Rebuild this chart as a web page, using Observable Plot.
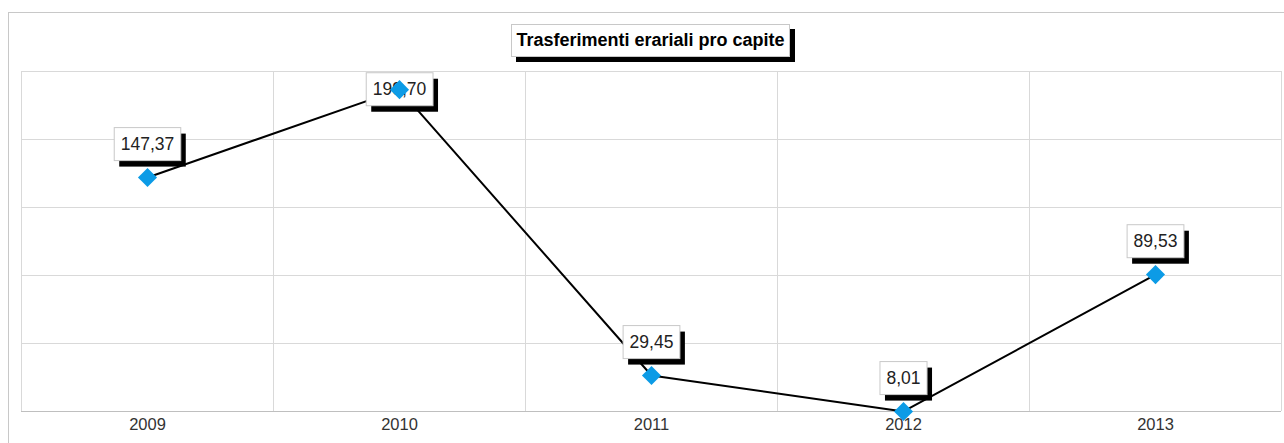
<!DOCTYPE html>
<html><head><meta charset="utf-8">
<script src="https://cdn.jsdelivr.net/npm/d3@7"></script>
<script src="https://cdn.jsdelivr.net/npm/@observablehq/plot@0.6"></script>
<style>
body{margin:0;background:#fff;font-family:Arial,"Liberation Sans",sans-serif;}
#wrap{position:relative;width:1284px;height:443px;overflow:hidden;background:#fff;}
#chart{position:absolute;left:0;top:0;}
#frame{position:absolute;left:8px;top:12px;width:1300px;height:460px;border:1px solid #c8c8c8;pointer-events:none;}
#title{position:absolute;left:511px;top:24px;width:277px;height:31px;border:1px solid #c8c8c8;box-shadow:5px 5px 0 #000;background:#fff;font-weight:bold;font-size:18px;line-height:31px;text-align:center;color:#000;font-family:Arial,"Liberation Sans",sans-serif;white-space:nowrap;}
</style></head>
<body>
<div id="wrap"><div id="chart"></div><div id="frame"></div><div id="title">Trasferimenti erariali pro capite</div></div>
<script>
const years = ["2009", "2010", "2011", "2012", "2013"];
const values = [147.37, 199.70, 29.45, 8.01, 89.53];
const labels = ["147,37", "199,70", "29,45", "8,01", "89,53"];

const yMin = 8, yMax = 210.5;
const W = 1284, H = 443, mT = 71, mB = 32, mL = 21, mR = 3;
const pxPerUnit = (H - mT - mB) / (yMax - yMin);
const labelOffset = 33;

const data = years.map((y, i) => ({i, year: y, v: values[i], label: labels[i],
  above: values[i] + (labelOffset + 16) / pxPerUnit <= yMax}));

const yGrid = d3.range(6).map(k => yMin + k * (yMax - yMin) / 5);
const xGrid = d3.range(6).map(k => k - 0.5);

const plot = Plot.plot({
  width: W, height: H,
  marginTop: mT, marginBottom: mB, marginLeft: mL, marginRight: mR,
  style: {background: "transparent", fontFamily: "Arial, 'Liberation Sans', sans-serif", fontSize: "17px"},
  x: {type: "linear", domain: [-0.5, 4.5]},
  y: {domain: [yMin, yMax]},
  marks: [
    Plot.ruleY(yGrid, {stroke: "#d9d9d9", strokeWidth: 1}),
    Plot.ruleX(xGrid, {stroke: "#d9d9d9", strokeWidth: 1}),
    Plot.ruleY([yMin], {stroke: "#bfbfbf", strokeWidth: 1}),
    Plot.line(data, {x: "i", y: "v", stroke: "#000", strokeWidth: 2}),
    Plot.text(data.filter(d => d.above), {x: "i", y: "v", text: "label", dy: -labelOffset,
      fontSize: 17.5, fill: "#222"}),
    Plot.text(data.filter(d => !d.above), {x: "i", y: "v", text: "label", dy: 0,
      fontSize: 17.5, fill: "#222"}),
    Plot.dot(data, {x: "i", y: "v", symbol: "diamond2", r: 8.6, fill: "#0c9be6", stroke: "none"}),
    Plot.axisX(d3.range(5), {tickFormat: i => years[i], tickSize: 0, tickPadding: 7,
      fontSize: 16.5, color: "#333", label: null}),
    Plot.axisY({ticks: [], label: null, tickSize: 0})
  ]
});

document.getElementById("chart").appendChild(plot);

const yearSet = new Set(years);
Array.from(plot.querySelectorAll("text")).filter(t => yearSet.has(t.textContent))
  .forEach(t => { t.style.fontSize = "16.5px"; t.setAttribute("fill", "#333"); });

const labelSet = new Set(labels);
const ns = "http://www.w3.org/2000/svg";
Array.from(plot.querySelectorAll("text")).filter(t => labelSet.has(t.textContent)).forEach(t => {
  const b = t.getBBox();
  const padX = 6.5, padY = 6.5;
  const tr = t.getAttribute("transform");
  const mk = (dx, dy, fill, stroke) => {
    const r = document.createElementNS(ns, "rect");
    r.setAttribute("x", b.x - padX + dx);
    r.setAttribute("y", b.y - padY + dy);
    r.setAttribute("width", b.width + 2 * padX);
    r.setAttribute("height", b.height + 2 * padY);
    r.setAttribute("fill", fill);
    if (stroke) r.setAttribute("stroke", stroke);
    if (tr) r.setAttribute("transform", tr);
    t.parentNode.insertBefore(r, t);
  };
  mk(5, 6, "#000");
  mk(0, 0, "#fff", "#c8c8c8");
});
</script>
</body></html>
